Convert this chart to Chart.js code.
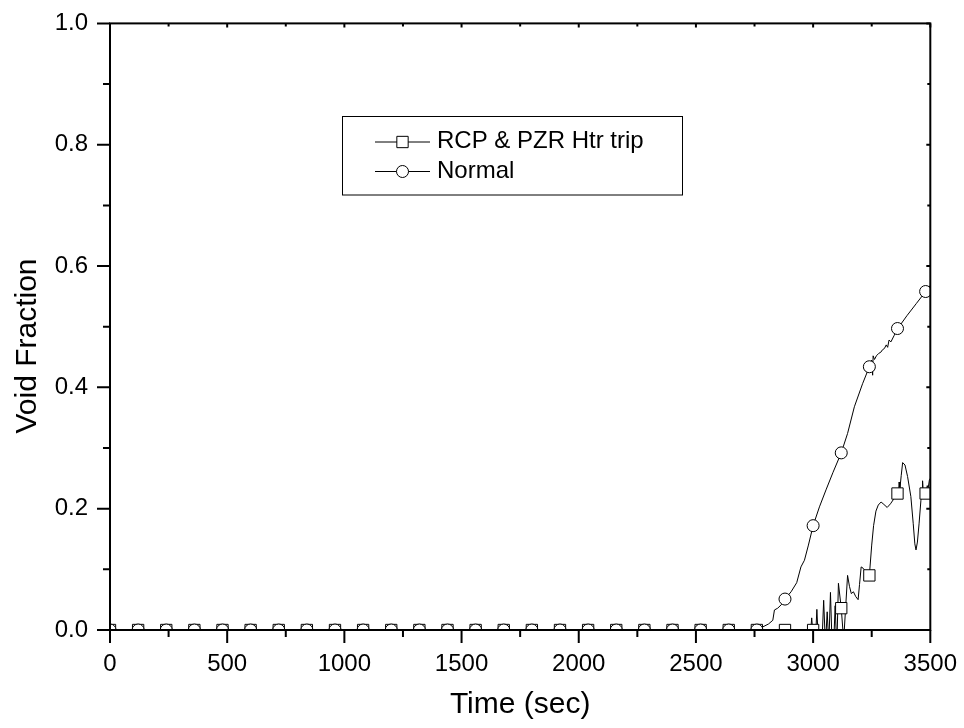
<!DOCTYPE html>
<html><head><meta charset="utf-8">
<script src="https://cdn.jsdelivr.net/npm/chart.js@4.4.1/dist/chart.umd.min.js"></script>
<style>html,body{margin:0;padding:0;background:#fff;}#wrap{width:964px;height:728px;position:relative;}</style>
</head><body><div id="wrap"><canvas id="c" width="964" height="728"></canvas></div>
<script>
const seriesNames = ['RCP & PZR Htr trip', 'Normal'];
const xTitle = 'Time (sec)';
const yTitle = 'Void Fraction';
const xMajorTicks = [0, 500, 1000, 1500, 2000, 2500, 3000, 3500];
const xMinorTicks = [250, 750, 1250, 1750, 2250, 2750, 3250];
const yMajorTicks = [0, 0.2, 0.4, 0.6, 0.8, 1.0];
const yMinorTicks = [0.1, 0.3, 0.5, 0.7, 0.9];

// marker (symbol) positions
const markerTime = [0,120,240,360,480,600,720,840,960,1080,1200,1320,1440,1560,1680,1800,1920,2040,2160,2280,2400,2520,2640,2760,2880,3000,3120,3240,3360,3480];
const rcpMarkerVoid = [0,0,0,0,0,0,0,0,0,0,0,0,0,0,0,0,0,0,0,0,0,0,0,0,0,0,0.036,0.09,0.225,0.225];
const normalMarkerVoid = [0,0,0,0,0,0,0,0,0,0,0,0,0,0,0,0,0,0,0,0,0,0,0,0,0.051,0.172,0.292,0.434,0.497,0.558];

// continuous curves
const rcpTime = [0,2990,2994,2998,3012,3016,3020,3040,3045,3050,3056,3060,3064,3069,3074,3079,3090,3094,3098,3103,3108,3120,3127,3133,3147,3155,3163,3172,3182,3192,3198,3205,3213,3223,3240,3250,3258,3268,3278,3290,3302,3316,3330,3346,3360,3365,3367,3370,3376,3382,3392,3403,3417,3427,3434,3439,3445,3452,3460,3465,3467,3470,3480,3487,3491,3496,3500];
const rcpVoid = [0,0,0.02,0,0,0.034,0,0,0.049,0,0,0.03,0,0,0.062,0,0,0.04,0,0,0.077,0.036,0,0,0.09,0.072,0.06,0.063,0.055,0.05,0.075,0.104,0.102,0.097,0.09,0.14,0.172,0.196,0.206,0.211,0.207,0.202,0.208,0.217,0.225,0.23,0.244,0.232,0.255,0.276,0.272,0.253,0.22,0.176,0.142,0.132,0.145,0.175,0.214,0.222,0.246,0.226,0.225,0.238,0.234,0.247,0.25];
const normalTime = [0,2760,2785,2810,2828,2835,2849,2865,2880,2906,2930,2948,2963,2980,3000,3027,3055,3085,3120,3147,3176,3211,3240,3250,3254,3256,3262,3270,3280,3289,3296,3304,3312,3318,3324,3332,3345,3361,3400,3440,3480,3500];
const normalVoid = [0,0,0.005,0.01,0.016,0.033,0.036,0.042,0.051,0.063,0.078,0.104,0.115,0.14,0.172,0.203,0.231,0.26,0.292,0.324,0.368,0.406,0.434,0.445,0.42,0.452,0.446,0.452,0.456,0.458,0.462,0.464,0.47,0.466,0.478,0.475,0.485,0.497,0.518,0.538,0.558,0.568];

const FONT = "'Liberation Sans', Arial, Helvetica, sans-serif";
const toXY = (xs, ys) => xs.map((x, i) => ({x: x, y: ys[i]}));

const framePlugin = {
  id: 'frame',
  afterDatasetsDraw(chart) {
    const ctx = chart.ctx, a = chart.chartArea;
    const xs = chart.scales.x, ys = chart.scales.y;
    ctx.save();
    ctx.strokeStyle = '#000';
    ctx.lineWidth = 2;
    ctx.strokeRect(a.left, a.top, a.right - a.left, a.bottom - a.top);
    ctx.beginPath();
    xMajorTicks.forEach(v => { const p = xs.getPixelForValue(v);
      ctx.moveTo(p, a.bottom); ctx.lineTo(p, a.bottom + 13);
      ctx.moveTo(p, a.top); ctx.lineTo(p, a.top + 4); });
    xMinorTicks.forEach(v => { const p = xs.getPixelForValue(v);
      ctx.moveTo(p, a.bottom); ctx.lineTo(p, a.bottom + 7);
      ctx.moveTo(p, a.top); ctx.lineTo(p, a.top + 3); });
    yMajorTicks.forEach(v => { const p = ys.getPixelForValue(v);
      ctx.moveTo(a.left, p); ctx.lineTo(a.left - 13, p);
      ctx.moveTo(a.right, p); ctx.lineTo(a.right - 4, p); });
    yMinorTicks.forEach(v => { const p = ys.getPixelForValue(v);
      ctx.moveTo(a.left, p); ctx.lineTo(a.left - 7, p);
      ctx.moveTo(a.right, p); ctx.lineTo(a.right - 3, p); });
    ctx.stroke();

    // y axis title
    ctx.save();
    ctx.translate(36, 346);
    ctx.rotate(-Math.PI / 2);
    ctx.fillStyle = '#000';
    ctx.font = '30px ' + FONT;
    ctx.textAlign = 'center';
    ctx.textBaseline = 'alphabetic';
    ctx.fillText(yTitle, 0, 0);
    ctx.restore();

    // legend
    ctx.lineWidth = 1;
    ctx.strokeRect(342.5, 116.5, 340, 78.5);
    const rows = [
      {name: seriesNames[0], style: 'rect', r: 8, y: 142},
      {name: seriesNames[1], style: 'circle', r: 6, y: 171.5}
    ];
    ctx.font = '24px ' + FONT;
    ctx.textAlign = 'left';
    ctx.textBaseline = 'alphabetic';
    rows.forEach(r => {
      ctx.beginPath();
      ctx.moveTo(375, r.y); ctx.lineTo(430, r.y);
      ctx.strokeStyle = '#000'; ctx.lineWidth = 1; ctx.stroke();
      ctx.fillStyle = '#fff'; ctx.strokeStyle = '#000';
      Chart.helpers.drawPoint(ctx, {pointStyle: r.style, radius: r.r, borderWidth: 1, rotation: 0}, 402.5, r.y);
      ctx.fillStyle = '#000';
      ctx.fillText(r.name, 437, r.y + 6);
    });
    ctx.restore();
  }
};

const lineBase = {borderColor: '#000', borderWidth: 1, pointRadius: 0, fill: false, tension: 0};
const markBase = {showLine: false, borderColor: '#000', backgroundColor: '#fff', pointBorderWidth: 1};

new Chart(document.getElementById('c'), {
  type: 'line',
  data: {
    datasets: [
      Object.assign({label: seriesNames[1] + ' markers', data: toXY(markerTime, normalMarkerVoid), pointStyle: 'circle', pointRadius: 6, order: 0}, markBase),
      Object.assign({label: seriesNames[0] + ' markers', data: toXY(markerTime, rcpMarkerVoid), pointStyle: 'rect', pointRadius: 8, order: 1}, markBase),
      Object.assign({label: seriesNames[1], data: toXY(normalTime, normalVoid), order: 2}, lineBase),
      Object.assign({label: seriesNames[0], data: toXY(rcpTime, rcpVoid), order: 3}, lineBase)
    ]
  },
  options: {
    responsive: false, animation: false, devicePixelRatio: 1,
    layout: {padding: {left: 0, top: 23, right: 33, bottom: 0}},
    plugins: {legend: {display: false}, tooltip: {enabled: false}},
    scales: {
      x: {
        type: 'linear', min: 0, max: 3500,
        afterFit(s) { s.height = 98; },
        afterBuildTicks(s) { s.ticks = xMajorTicks.map(v => ({value: v})); },
        ticks: {color: '#000', font: {family: FONT, size: 24}, padding: 7, maxRotation: 0, autoSkip: false, callback: v => String(v)},
        grid: {display: false, drawTicks: true, tickLength: 13},
        border: {display: false},
        title: {display: true, text: xTitle, color: '#000', font: {family: FONT, size: 30}, padding: {top: 0, bottom: 5}}
      },
      y: {
        type: 'linear', min: 0, max: 1,
        afterFit(s) { s.width = 110; },
        afterBuildTicks(s) { s.ticks = yMajorTicks.map(v => ({value: v})); },
        ticks: {color: '#000', font: {family: FONT, size: 24}, padding: 9, callback: v => Number(v).toFixed(1)},
        grid: {display: false, drawTicks: true, tickLength: 13},
        border: {display: false}
      }
    }
  },
  plugins: [framePlugin]
});
</script></body></html>
